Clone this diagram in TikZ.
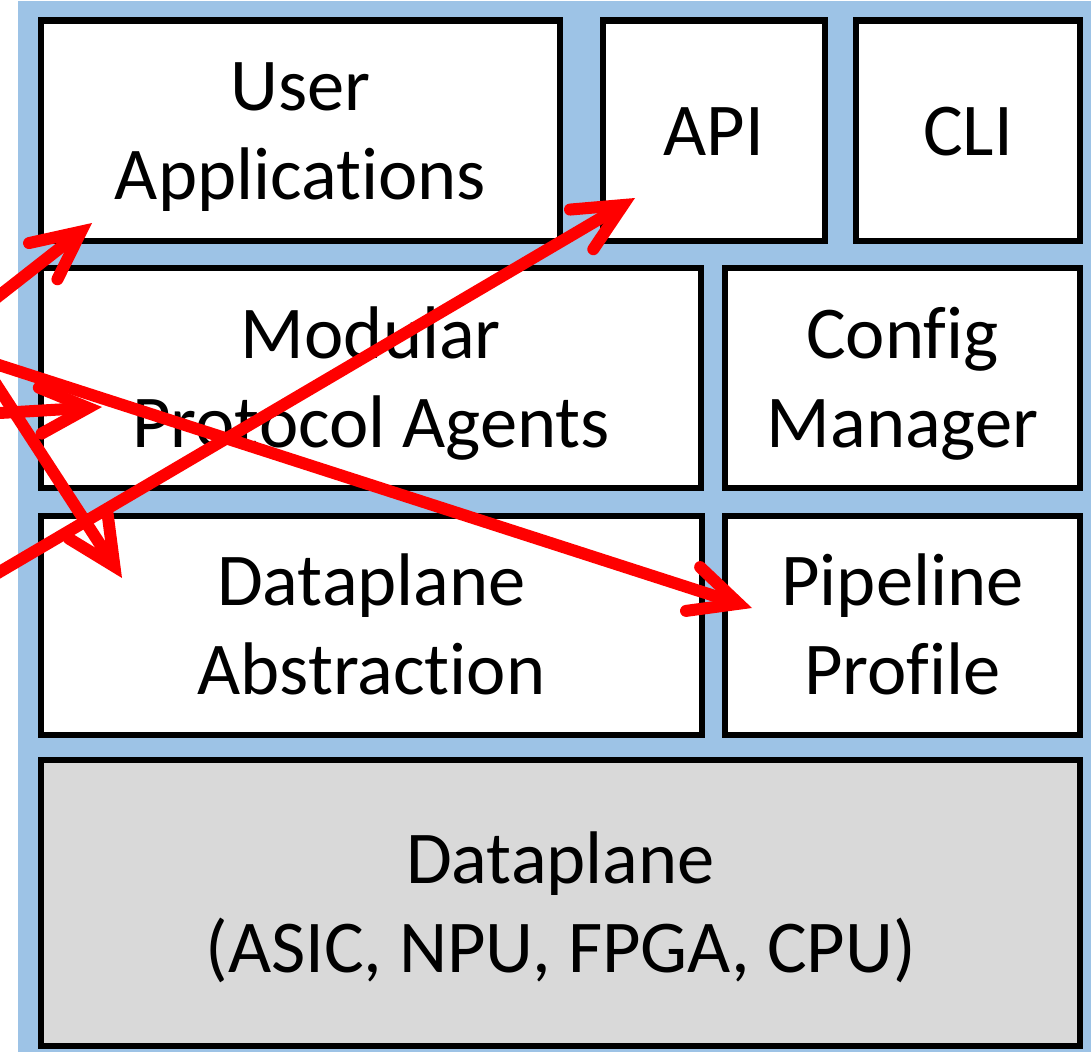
\documentclass[tikz,border=0pt]{standalone}
\usepackage{fontspec}
\setmainfont{Carlito}[Ligatures=NoCommon]
\usetikzlibrary{arrows.meta}

\definecolor{frameblue}{HTML}{9DC3E6}
\definecolor{hwgray}{HTML}{D9D9D9}
\definecolor{callred}{HTML}{FF0000}

% line strut: fixes the ascent/descent used to centre the text in a box
\newcommand\ls{\rule[-13.25pt]{0pt}{62pt}}

\begin{document}
\begin{tikzpicture}[x=0.025cm, y=-0.025cm,
  layer/.style={draw=black, line width=0.15cm, fill=white, rectangle,
    inner sep=0pt, align=center, font=\fontsize{53}{63.3}\selectfont},
  size/.style 2 args={minimum width={#1*0.025cm}, minimum height={#2*0.025cm}},
  callout/.style={draw=callred, line width=0.3cm, line cap=round,
    -{Straight Barb[length=1.2cm, width=1.15cm, line cap=round, line join=miter]}}]

  % canvas and the blue stack frame
  \useasboundingbox (0,0) rectangle (1091,1052);
  \fill[white] (0,0) rectangle (1091,1052);
  \fill[frameblue] (18,1) rectangle (1091,1052);

  % software stack layers
  \node[layer, size={519}{220}] (apps)  at (300.5,130.5) {\ls User\\\ls Applications};
  \node[layer, size={222}{220}] (api)   at (714,130.5)   {\ls API};
  \node[layer, size={224}{220}] (cli)   at (968,130.5)   {\ls CLI};
  \node[layer, size={660}{220}] (agents) at (371,378)    {\ls Modular\\\ls Protocol Agents};
  \node[layer, size={355}{220}] (config) at (902.5,378)  {\ls Config\\\ls Manager};
  \node[layer, size={661}{219}] (dpabs) at (371.5,625.5) {\ls Dataplane\\\ls Abstraction};
  \node[layer, size={355}{219}] (pipe)  at (902.5,625.5) {\ls Pipeline\\\ls Profile};
  \node[layer, fill=hwgray, size={1039}{286}] (hw) at (560.5,903)
    {\ls Dataplane\\\ls (ASIC, NPU, FPGA, CPU)};

  % callout arrows entering from the left margin
  \coordinate (s1) at (-60,342);
  \coordinate (s2) at (-60,416.5);
  \coordinate (s3) at (-60,298);
  \coordinate (s4) at (-60,607);
  \coordinate (s5) at (-60,346);
  \coordinate (t1) at (92,223);
  \coordinate (t2) at (102,407);
  \coordinate (t3) at (122,578);
  \coordinate (t4) at (635,198);
  \coordinate (t5) at (752,608);

  \begin{scope}
    \clip (0,0) rectangle (1091,1052);
    \draw[callout] (s1) -- (t1);
    \draw[callout] (s2) -- (t2);
    \draw[callout] (s3) -- (t3);
    \draw[callout] (s4) -- (t4);
    \draw[callout] (s5) -- (t5);
  \end{scope}
\end{tikzpicture}
\end{document}
